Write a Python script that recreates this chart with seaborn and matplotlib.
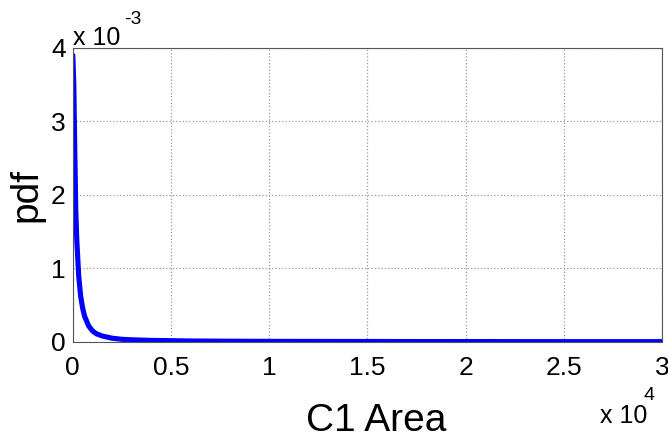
import numpy as np
import pandas as pd
import matplotlib
matplotlib.use('Agg')
import matplotlib.pyplot as plt
import matplotlib.ticker as mticker
import seaborn as sns

# values
area = [0, 50, 100, 150, 200, 300, 400, 500, 600, 800, 1000, 1200, 1500,
        2000, 2500, 3000, 4000, 5000, 6000, 8000, 10000, 15000, 20000, 25000, 30000]
pdf = [3.9e-3, 3.5e-3, 2.6e-3, 1.8e-3, 1.4e-3, 0.9e-3, 0.62e-3, 0.46e-3, 0.35e-3,
       0.22e-3, 0.15e-3, 0.11e-3, 0.08e-3, 0.05e-3, 0.035e-3, 0.028e-3, 0.02e-3,
       0.016e-3, 0.012e-3, 0.009e-3, 0.007e-3, 0.005e-3, 0.004e-3, 0.003e-3, 0.003e-3]
x_ticks = [0, 5000, 10000, 15000, 20000, 25000, 30000]
y_ticks = [0, 1e-3, 2e-3, 3e-3, 4e-3]

sns.set_style('white')
plt.rcParams['font.family'] = ['Liberation Sans', 'DejaVu Sans']
plt.rcParams['text.color'] = 'black'
plt.rcParams['axes.labelcolor'] = 'black'

df = pd.DataFrame({'area': area, 'pdf': pdf})

fig = plt.figure(figsize=(6.68, 4.44), dpi=100)
ax = fig.add_axes([0.109, 0.23, 0.882, 0.662])
sns.lineplot(data=df, x='area', y='pdf', color='#0000ff', linewidth=3.7, ax=ax)

ax.set_xlim(0, 30000)
ax.set_ylim(0, 4e-3)
ax.set_xticks(x_ticks)
ax.set_yticks(y_ticks)
ax.xaxis.set_major_formatter(mticker.FuncFormatter(lambda v, p: f'{v/1e4:g}'))
ax.yaxis.set_major_formatter(mticker.FuncFormatter(lambda v, p: f'{v/1e-3:g}'))
ax.tick_params(direction='in', length=4, labelsize=19, colors='black', pad=5)
ax.tick_params(axis='x', pad=10)
ax.grid(True, linestyle=':', color='#999999', linewidth=0.9)
for s in ax.spines.values():
    s.set_color('#555555')
    s.set_linewidth(0.8)

ax.set_xlabel('C1 Area', fontsize=28)
ax.set_ylabel('pdf', fontsize=28)
ax.xaxis.set_label_coords(0.515, -0.207)
ax.yaxis.set_label_coords(-0.048, 0.5)

# multiplier labels, MATLAB style
fig.text(0.109, 0.899, 'x 10', fontsize=18, ha='left', va='baseline')
fig.text(0.186, 0.946, '-3', fontsize=14, ha='left', va='baseline')
fig.text(0.898, 0.047, 'x 10', fontsize=18, ha='left', va='baseline')
fig.text(0.963, 0.099, '4', fontsize=14, ha='left', va='baseline')

fig.savefig('out.png', dpi=100)
